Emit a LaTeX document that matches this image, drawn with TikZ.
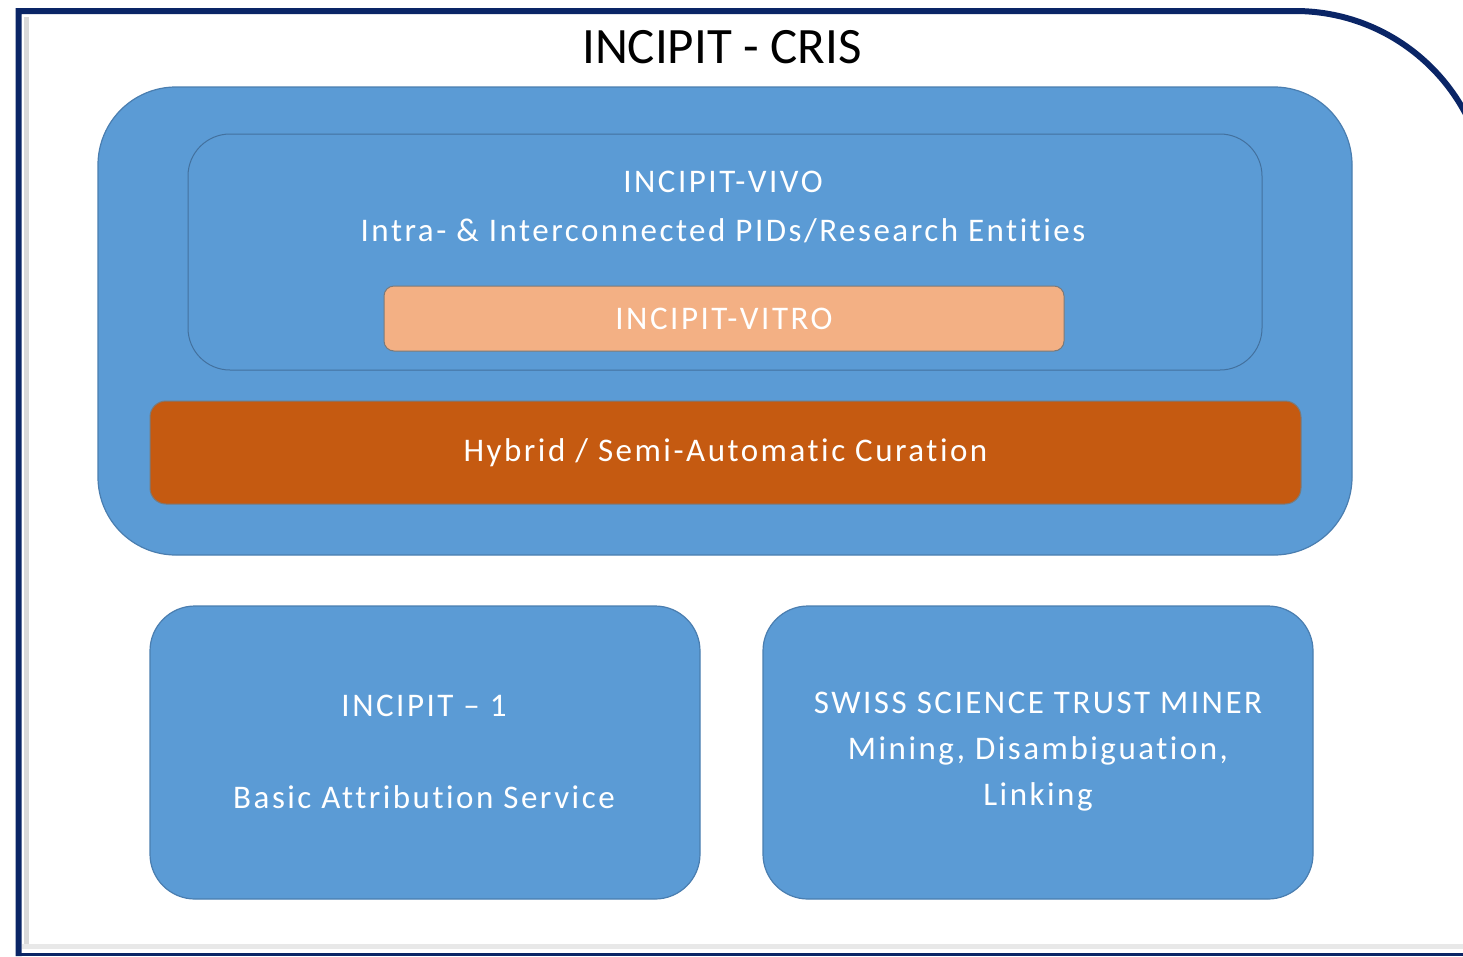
\documentclass[tikz,border=0pt]{standalone}
\usepackage{fontspec}
\setmainfont{Carlito}
\newfontfamily\spacedfont[LetterSpace=7.6,Ligatures=NoCommon]{Carlito}
\definecolor{navy}{HTML}{0A2566}
\definecolor{boxblue}{HTML}{5B9BD5}
\definecolor{boxedge}{HTML}{4A7EB0}
\definecolor{vitrofill}{HTML}{F3B084}
\definecolor{curfill}{HTML}{C55A11}
\definecolor{grayedge}{HTML}{7A7A7A}
\begin{document}
\begin{tikzpicture}[x=1pt,y=-1pt,
  bluebox/.style={draw=boxedge, line width=1.2pt, fill=boxblue, rectangle},
  whitetext/.style={text=white, font=\spacedfont\fontsize{33}{46}\selectfont, align=center, inner sep=0pt},
]
\useasboundingbox (0,0) rectangle (1463,956);
\clip (0,0) rectangle (1463,956);
\fill[white] (0,0) rectangle (1463,956);
% shadow of frame
\draw[gray!30, line width=5pt] (26,948) -- (26,17);
\draw[gray!18, line width=5pt] (22,946) -- (1470,946);
% outer frame
\draw[navy, line width=6pt] (18.5,956) -- (18.5,11) -- (1295,11) .. controls (1401.6,11) and (1488,97.4) .. (1488,204) -- (1488,954);
\draw[navy, line width=3.5pt] (18.5,954.5) -- (1470,954.5);
\node[font=\fontsize{51}{58}\selectfont, inner sep=0pt] (title) at (722,47) {INCIPIT - CRIS};

% big box
\node[bluebox, rounded corners=78pt, minimum width=1254pt, minimum height=468pt] (big) at (725,321) {};
\node[bluebox, draw=boxedge!90!black, line width=1pt, rounded corners=42pt, minimum width=1074pt, minimum height=236pt] (vivo) at (725,252) {};
\node[whitetext, font=\spacedfont\fontsize{33}{48.5}\selectfont] (vivotext) at (723,207) {INCIPIT-VIVO\\Intra- \& Interconnected PIDs/Research Entities};
\node[draw=grayedge, line width=1pt, fill=vitrofill, rounded corners=10pt, minimum width=680pt, minimum height=65pt, whitetext] (vitro) at (724,318.5) {INCIPIT-VITRO};
\node[draw=grayedge, line width=1pt, fill=curfill, rounded corners=16pt, minimum width=1151pt, minimum height=103pt, whitetext] (cur) at (725.5,452.5) {Hybrid / Semi-Automatic Curation};

% bottom boxes
\node[bluebox, rounded corners=45pt, minimum width=550pt, minimum height=293pt] (inc1) at (425,752.5) {};
\node[whitetext] (inc1text) at (424,752) {INCIPIT – 1\\[46pt]Basic Attribution Service};
\node[bluebox, rounded corners=45pt, minimum width=550pt, minimum height=293pt] (sstm) at (1038,752.5) {};
\node[whitetext] (sstmtext) at (1038,752) {SWISS SCIENCE TRUST MINER\\Mining, Disambiguation,\\Linking};
\end{tikzpicture}
\end{document}
